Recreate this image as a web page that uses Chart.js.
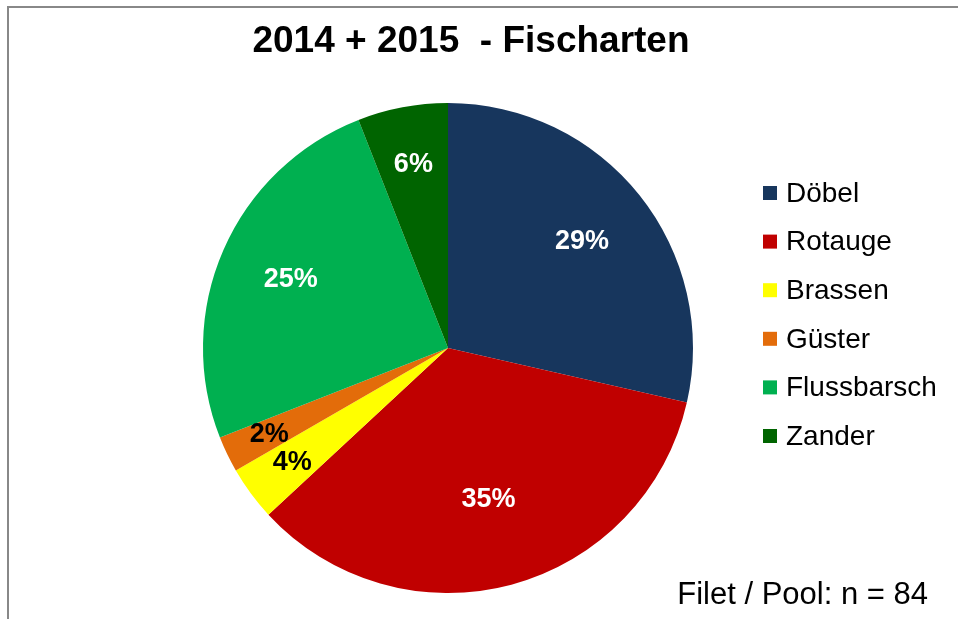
<!DOCTYPE html>
<html>
<head>
<meta charset="utf-8">
<style>
body { margin:0; background:#fff }
#wrap { position:relative; width:958px; height:619px }
#frame { position:absolute; left:7px; top:6px; right:0; bottom:0; border-top:2px solid #888; border-left:2px solid #888 }
canvas { position:absolute; left:0; top:0 }
</style>
<script src="https://cdn.jsdelivr.net/npm/chart.js"></script>
</head>
<body>
<div id="wrap">
  <div id="frame"></div>
  <canvas id="chart" width="958" height="619"></canvas>
</div>

<script>
// counts per species, n = 84
const labels = ["Döbel", "Rotauge", "Brassen", "Güster", "Flussbarsch", "Zander"];
const counts = [24, 29, 3, 2, 21, 5];
const colors = ["#17365D", "#C00000", "#FFFF00", "#E36C0A", "#00B050", "#006400"];
const labelColors = ["#fff", "#fff", "#000", "#000", "#fff", "#fff"];
const labelDist = [0.70, 0.64, 0.79, 0.81, 0.70, 0.76];
const title = "2014 + 2015  - Fischarten";
const footer = "Filet / Pool: n = 84";

const FONT = "'Liberation Sans', Arial, sans-serif";

const extras = {
  id: "extras",
  afterDatasetsDraw(chart) {
    const ctx = chart.ctx;
    const meta = chart.getDatasetMeta(0);
    const total = counts.reduce((a, b) => a + b, 0);

    // percent labels
    ctx.save();
    ctx.font = "bold 27px " + FONT;
    ctx.textAlign = "center";
    ctx.textBaseline = "middle";
    meta.data.forEach((arc, i) => {
      const p = arc.getProps(["x", "y", "startAngle", "endAngle", "outerRadius"], true);
      const mid = (p.startAngle + p.endAngle) / 2;
      const r = p.outerRadius * labelDist[i];
      ctx.fillStyle = labelColors[i];
      ctx.fillText(Math.round(counts[i] / total * 100) + "%", p.x + Math.cos(mid) * r, p.y + Math.sin(mid) * r);
    });

    // title
    ctx.fillStyle = "#000";
    ctx.font = "bold 37px " + FONT;
    ctx.fillText(title, 471, 42);

    // legend
    ctx.textAlign = "left";
    ctx.font = "28px " + FONT;
    labels.forEach((l, i) => {
      const y = 193 + i * 48.6;
      ctx.fillStyle = colors[i];
      ctx.fillRect(763, y - 7, 14, 14);
      ctx.fillStyle = "#000";
      ctx.fillText(l, 786, y + 1);
    });

    // footer
    ctx.font = "31px " + FONT;
    ctx.textAlign = "right";
    ctx.fillText(footer, 928, 595);
    ctx.restore();
  }
};

new Chart(document.getElementById("chart"), {
  type: "pie",
  data: {
    labels: labels,
    datasets: [{
      data: counts,
      backgroundColor: colors,
      borderWidth: 0
    }]
  },
  options: {
    responsive: false,
    devicePixelRatio: 1,
    animation: false,
    layout: { padding: { left: 203, right: 265, top: 103, bottom: 26 } },
    plugins: {
      legend: { display: false },
      tooltip: { enabled: false }
    }
  },
  plugins: [extras]
});
</script>
</body>
</html>
